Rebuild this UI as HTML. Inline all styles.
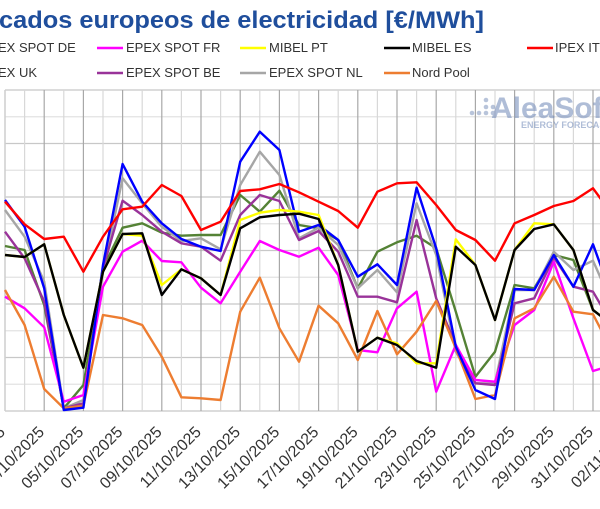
<!DOCTYPE html>
<html><head><meta charset="utf-8"><style>
html,body{margin:0;padding:0;background:#fff;}
svg{display:block;font-family:"Liberation Sans",sans-serif;}
</style></head><body>
<svg id="s" width="600" height="509" viewBox="0 0 600 509" xmlns="http://www.w3.org/2000/svg">
<rect width="600" height="509" fill="#fff"/>
<text x="-1" y="28" font-size="24" font-weight="bold" fill="#1f4e9c" textLength="485" lengthAdjust="spacingAndGlyphs">cados europeos de electricidad [€/MWh]</text>
<g font-size="13" fill="#333">
<text x="-2" y="52">EX SPOT DE</text>
<line x1="97" y1="48" x2="123" y2="48" stroke="#ff00ff" stroke-width="2.5"/><text x="126" y="52">EPEX SPOT FR</text>
<line x1="240" y1="48" x2="266" y2="48" stroke="#ffff00" stroke-width="2.5"/><text x="269" y="52">MIBEL PT</text>
<line x1="384" y1="48" x2="410" y2="48" stroke="#000" stroke-width="2.5"/><text x="412" y="52">MIBEL ES</text>
<line x1="527" y1="48" x2="553" y2="48" stroke="#ff0000" stroke-width="2.5"/><text x="555" y="52">IPEX IT</text>
<text x="-2" y="77">EX UK</text>
<line x1="97" y1="73" x2="123" y2="73" stroke="#993399" stroke-width="2.5"/><text x="126" y="77">EPEX SPOT BE</text>
<line x1="240" y1="73" x2="266" y2="73" stroke="#a6a6a6" stroke-width="2.5"/><text x="269" y="77">EPEX SPOT NL</text>
<line x1="384" y1="73" x2="410" y2="73" stroke="#ed7d31" stroke-width="2.5"/><text x="412" y="77">Nord Pool</text>
</g>
<g id="grid"></g>
<g opacity="0.55">
<g fill="#7f95bd"><circle cx="486" cy="107" r="2.3"/><circle cx="479" cy="113" r="2.3"/><circle cx="486" cy="113" r="2.3"/><circle cx="472" cy="113" r="2.3"/><circle cx="486" cy="100" r="2.3"/><circle cx="493" cy="113" r="2.3"/><circle cx="493" cy="107" r="2.3"/></g>
<text x="491" y="118" font-size="30" font-weight="bold" fill="#6f88b8">AleaSoft</text>
<text x="521" y="128" font-size="9" font-weight="bold" fill="#6f88b8">ENERGY FORECASTING</text>
</g>
<g id="series" fill="none" stroke-width="2.4" stroke-linejoin="round"></g>
<g id="labels" font-size="16" fill="#333"></g>
</svg>
<script>
var NS="http://www.w3.org/2000/svg";
function X(d){return 5+19.6*(d-1);}
function el(t,a,p){var e=document.createElementNS(NS,t);for(var k in a)e.setAttribute(k,a[k]);p.appendChild(e);return e;}
var g=document.getElementById('grid');
for(var i=0;i<=12;i++){var y=90+i*26.75;el('line',{x1:5,x2:600,y1:y,y2:y,stroke:(i%2==0?'#c8c8c8':'#e2e2e2'),'stroke-width':1.3},g);}
for(var d=1;d<=31;d++){var x=X(d);el('line',{x1:x,x2:x,y1:90,y2:411,stroke:((d%2==1&&d>1)?'#a8a8a8':'#d8d8d8'),'stroke-width':1.2},g);}
el('line',{x1:5,x2:5,y1:90,y2:411,stroke:'#d0d0d0','stroke-width':1.5},g);
var S=[
["#00a000",[483,495,660,970,900,550,428,415,443,452,450,450,330,380,317,420,430,465,610,500,472,452,490,680,875,800,600,610,510,525,675,720],"#548235"],
["#a6a6a6",[375,455,590,970,945,560,280,355,425,468,460,493,300,200,270,460,428,480,610,555,622,355,510,800,895,895,615,615,500,555,527,660]],
["#993399",[440,520,650,970,955,550,347,390,440,475,485,527,390,330,348,465,438,500,635,635,652,405,640,780,895,900,655,640,517,605,620,720]],
["#ff00ff",[635,670,727,950,930,605,500,467,528,532,608,655,560,468,495,515,488,570,795,802,670,620,920,780,885,890,720,675,530,700,858,840]],
["#ed7d31",[615,720,912,970,962,690,700,720,815,937,940,945,680,578,730,830,662,715,825,678,808,740,648,790,942,930,700,670,575,680,688,800]],
["#0000ff",[345,425,610,975,968,540,237,350,415,462,485,498,230,140,195,440,420,465,575,538,600,308,490,785,915,942,612,615,510,605,478,640]],
["#ffff00",[510,516,478,690,848,560,447,452,600,553,580,630,405,383,375,380,390,540,800,758,775,835,835,463,540,705,495,415,418,495,675,720]],
["#000000",[510,516,478,690,848,560,447,445,630,553,580,630,430,397,390,386,402,540,800,758,780,828,848,485,540,705,495,432,418,495,675,720]],
["#ff0000",[350,418,462,455,560,455,373,365,300,333,435,410,318,313,297,322,350,378,428,320,295,292,360,435,465,527,415,390,363,348,310,390]]
];
var sg=document.getElementById('series');
S.forEach(function(s){var col=s[2]||s[0];var pts=s[1].map(function(v,i){return X(i+1).toFixed(1)+','+(85+v/3).toFixed(1);}).join(' ');el('polyline',{points:pts,stroke:col},sg);});
var lg=document.getElementById('labels');
for(var d=1;d<=33;d+=2){var x=X(d)+1;var dd=d>31?d-31:d;var m=d>31?'11':'10';var t=el('text',{x:x,y:433,'text-anchor':'end',transform:'rotate(-45 '+x+' 433)'},lg);t.textContent=(dd<10?'0':'')+dd+'/'+m+'/2025';}
</script>
</body></html>
